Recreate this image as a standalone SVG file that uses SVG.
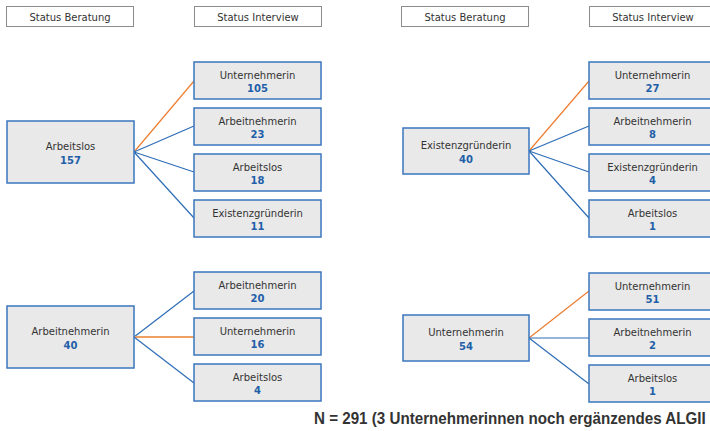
<svg xmlns="http://www.w3.org/2000/svg" width="710" height="431" viewBox="0 0 710 431">
<style>
.hdr{fill:#fff;stroke:#8c8c8c;stroke-width:1}
.box{fill:#e9e9e9;stroke:#3a76bd;stroke-width:1.5}
.lbl{font-family:"DejaVu Sans",Verdana,sans-serif;font-size:10px;fill:#333;text-anchor:middle}
.num{font-family:"DejaVu Sans",Verdana,sans-serif;font-size:10px;font-weight:bold;fill:#1f5fa8;text-anchor:middle}
.blue{stroke:#2e6db6;stroke-width:1.2;fill:none}
.orange{stroke:#ed7d31;stroke-width:1.2;fill:none}
.foot{font-family:"Liberation Sans",Arial,sans-serif;font-size:16px;font-weight:bold;fill:#333}
</style>
<rect width="710" height="431" fill="#fff"/>
<g id="headers">
<rect class="hdr" x="6.5" y="6.5" width="127" height="20"/>
<text class="lbl" x="70" y="20.5">Status Beratung</text>
<rect class="hdr" x="194.5" y="6.5" width="127" height="20"/>
<text class="lbl" x="258" y="20.5">Status Interview</text>
<rect class="hdr" x="401.5" y="6.5" width="127" height="20"/>
<text class="lbl" x="465" y="20.5">Status Beratung</text>
<rect class="hdr" x="589.5" y="6.5" width="127" height="20"/>
<text class="lbl" x="653" y="20.5">Status Interview</text>
</g>
<g id="connectors">
<line class="orange" x1="134" y1="152" x2="194" y2="81"/>
<line class="blue" x1="134" y1="152" x2="194" y2="126"/>
<line class="blue" x1="134" y1="152" x2="194" y2="172"/>
<line class="blue" x1="134" y1="152" x2="194" y2="218"/>
<line class="orange" x1="529" y1="151" x2="589" y2="81"/>
<line class="blue" x1="529" y1="151" x2="589" y2="126"/>
<line class="blue" x1="529" y1="151" x2="589" y2="172"/>
<line class="blue" x1="529" y1="151" x2="589" y2="218"/>
<line class="blue" x1="134" y1="337" x2="194" y2="291"/>
<line class="orange" x1="134" y1="337" x2="194" y2="337" style="stroke:#f0a060;stroke-width:1.8"/>
<line class="blue" x1="134" y1="337" x2="194" y2="383"/>
<line class="orange" x1="529" y1="338" x2="589" y2="291"/>
<line class="blue" x1="529" y1="338" x2="589" y2="338"/>
<line class="blue" x1="529" y1="338" x2="589" y2="384"/>
</g>
<g id="n-arbeitslos">
<rect class="box" x="7" y="121" width="127" height="62"/>
<text class="lbl" x="70.5" y="150">Arbeitslos</text>
<text class="num" x="70.5" y="163.5">157</text>
</g>
<g id="n-a-unternehmerin">
<rect class="box" x="194" y="62" width="127" height="37"/>
<text class="lbl" x="257.5" y="78.5">Unternehmerin</text>
<text class="num" x="257.5" y="92">105</text>
</g>
<g id="n-a-arbeitnehmerin">
<rect class="box" x="194" y="108" width="127" height="37"/>
<text class="lbl" x="257.5" y="124.5">Arbeitnehmerin</text>
<text class="num" x="257.5" y="138">23</text>
</g>
<g id="n-a-arbeitslos">
<rect class="box" x="194" y="154" width="127" height="37"/>
<text class="lbl" x="257.5" y="170.5">Arbeitslos</text>
<text class="num" x="257.5" y="184">18</text>
</g>
<g id="n-a-existenz">
<rect class="box" x="194" y="200" width="127" height="37"/>
<text class="lbl" x="257.5" y="216.5">Existenzgründerin</text>
<text class="num" x="257.5" y="230">11</text>
</g>
<g id="n-existenz">
<rect class="box" x="403" y="128" width="126" height="46"/>
<text class="lbl" x="466" y="149">Existenzgründerin</text>
<text class="num" x="466" y="162.5">40</text>
</g>
<g id="n-e-unternehmerin">
<rect class="box" x="589" y="62" width="127" height="37"/>
<text class="lbl" x="652.5" y="78.5">Unternehmerin</text>
<text class="num" x="652.5" y="92">27</text>
</g>
<g id="n-e-arbeitnehmerin">
<rect class="box" x="589" y="108" width="127" height="37"/>
<text class="lbl" x="652.5" y="124.5">Arbeitnehmerin</text>
<text class="num" x="652.5" y="138">8</text>
</g>
<g id="n-e-existenz">
<rect class="box" x="589" y="154" width="127" height="37"/>
<text class="lbl" x="652.5" y="170.5">Existenzgründerin</text>
<text class="num" x="652.5" y="184">4</text>
</g>
<g id="n-e-arbeitslos">
<rect class="box" x="589" y="200" width="127" height="37"/>
<text class="lbl" x="652.5" y="216.5">Arbeitslos</text>
<text class="num" x="652.5" y="230">1</text>
</g>
<g id="n-arbeitnehmerin">
<rect class="box" x="7" y="306" width="127" height="62"/>
<text class="lbl" x="70.5" y="335">Arbeitnehmerin</text>
<text class="num" x="70.5" y="348.5">40</text>
</g>
<g id="n-an-arbeitnehmerin">
<rect class="box" x="194" y="272" width="127" height="37"/>
<text class="lbl" x="257.5" y="288.5">Arbeitnehmerin</text>
<text class="num" x="257.5" y="302">20</text>
</g>
<g id="n-an-unternehmerin">
<rect class="box" x="194" y="318" width="127" height="37"/>
<text class="lbl" x="257.5" y="334.5">Unternehmerin</text>
<text class="num" x="257.5" y="348">16</text>
</g>
<g id="n-an-arbeitslos">
<rect class="box" x="194" y="364" width="127" height="37"/>
<text class="lbl" x="257.5" y="380.5">Arbeitslos</text>
<text class="num" x="257.5" y="394">4</text>
</g>
<g id="n-unternehmerin">
<rect class="box" x="403" y="315" width="126" height="46"/>
<text class="lbl" x="466" y="336">Unternehmerin</text>
<text class="num" x="466" y="349.5">54</text>
</g>
<g id="n-u-unternehmerin">
<rect class="box" x="589" y="273" width="127" height="37"/>
<text class="lbl" x="652.5" y="289.5">Unternehmerin</text>
<text class="num" x="652.5" y="303">51</text>
</g>
<g id="n-u-arbeitnehmerin">
<rect class="box" x="589" y="319" width="127" height="37"/>
<text class="lbl" x="652.5" y="335.5">Arbeitnehmerin</text>
<text class="num" x="652.5" y="349">2</text>
</g>
<g id="n-u-arbeitslos">
<rect class="box" x="589" y="365" width="127" height="37"/>
<text class="lbl" x="652.5" y="381.5">Arbeitslos</text>
<text class="num" x="652.5" y="395">1</text>
</g>
<text class="foot" transform="translate(314 424) scale(0.83 1)" x="0" y="0" textLength="472" lengthAdjust="spacingAndGlyphs">N = 291 (3 Unternehmerinnen noch ergänzendes ALGII</text>
</svg>
